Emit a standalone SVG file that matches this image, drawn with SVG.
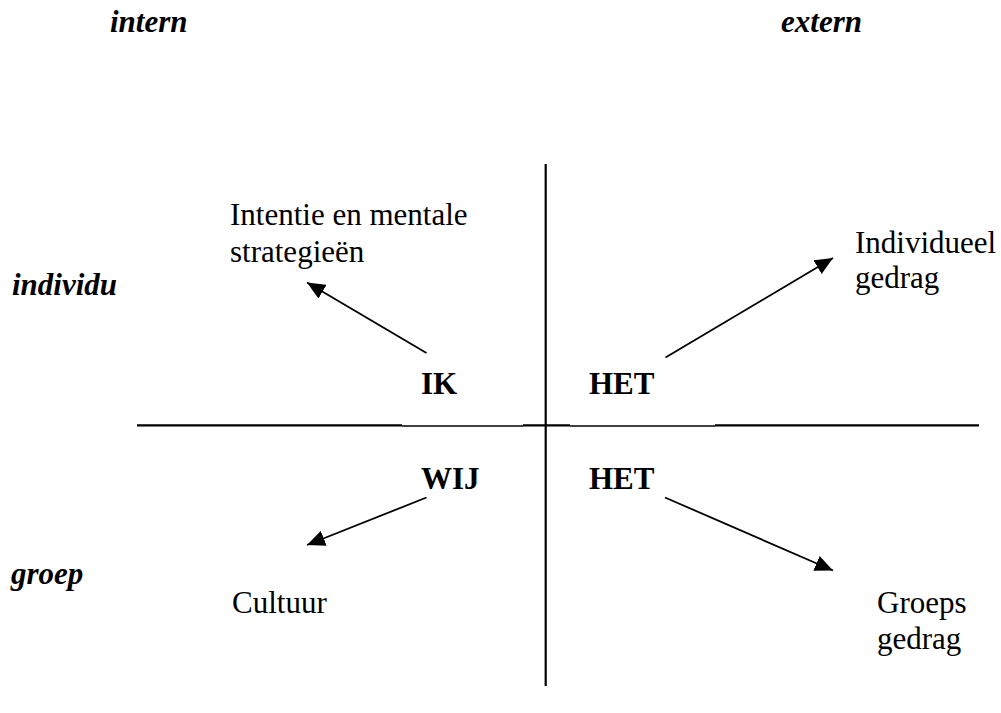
<svg xmlns="http://www.w3.org/2000/svg" width="1001" height="713" viewBox="0 0 1001 713">
<style>
.t{font-family:"Liberation Serif","Times New Roman",serif;font-size:31px;fill:#000}
.ax{font-weight:bold;font-style:italic}
.b{font-weight:bold}
.thick{stroke:#000;stroke-width:2.2;fill:none}
.thin{stroke:#000;stroke-width:1.3;fill:none}
.arr{stroke:#000;stroke-width:1.8;fill:none;marker-end:url(#ah)}
</style>
<defs>
<marker id="ah" markerUnits="userSpaceOnUse" markerWidth="20" markerHeight="16" viewBox="0 0 20 16" refX="18" refY="8" orient="auto">
<path d="M0,0 L18,8 L0,16 Z" fill="#000"/>
</marker>
</defs>
<rect width="1001" height="713" fill="#fff"/>
<g id="axes">
<line class="thick" x1="545.7" y1="164" x2="545.7" y2="686"/>
<line class="thick" x1="137" y1="425.3" x2="402" y2="425.3"/>
<line class="thin" x1="402" y1="426" x2="523" y2="426"/>
<line class="thick" x1="523" y1="425.3" x2="570" y2="425.3"/>
<line class="thin" x1="570" y1="426" x2="715" y2="426"/>
<line class="thick" x1="715" y1="425.3" x2="979" y2="425.3"/>
</g>
<g id="labels-axes">
<text class="t ax" x="110" y="32">intern</text>
<text class="t ax" x="862" y="32" text-anchor="end">extern</text>
<text class="t ax" x="12" y="295">individu</text>
<text class="t ax" x="11" y="584">groep</text>
</g>
<g id="node-ik"><text class="t b" x="421" y="394">IK</text></g>
<g id="node-het1"><text class="t b" x="589" y="394">HET</text></g>
<g id="node-wij"><text class="t b" x="421" y="489">WIJ</text></g>
<g id="node-het2"><text class="t b" x="589" y="489">HET</text></g>
<g id="node-intentie"><text class="t" x="230" y="225">Intentie en mentale</text><text class="t" x="230" y="262">strategieën</text></g>
<g id="node-individueel"><text class="t" x="855" y="253">Individueel</text><text class="t" x="855" y="288">gedrag</text></g>
<g id="node-cultuur"><text class="t" x="232" y="613">Cultuur</text></g>
<g id="node-groeps"><text class="t" x="877" y="613">Groeps</text><text class="t" x="877" y="649">gedrag</text></g>
<g id="connectors">
<line class="arr" x1="426.5" y1="353" x2="307" y2="282.5"/>
<line class="arr" x1="665.5" y1="357.5" x2="833" y2="258"/>
<line class="arr" x1="426.5" y1="497.5" x2="307" y2="545"/>
<line class="arr" x1="665" y1="497.5" x2="833" y2="570.5"/>
</g>
</svg>
